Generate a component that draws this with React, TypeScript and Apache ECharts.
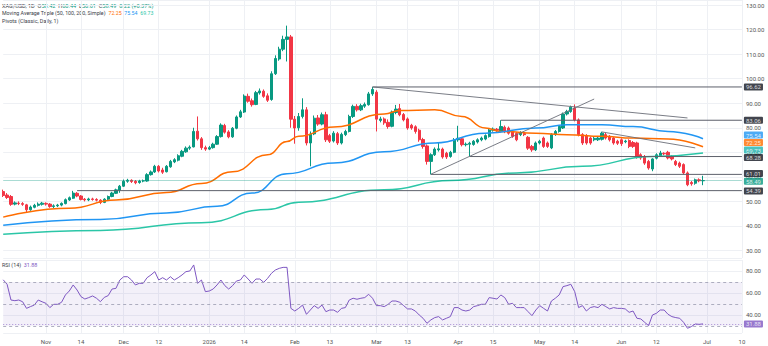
import React, { useEffect, useRef } from 'react';
import * as echarts from 'echarts';

// [open, close, low, high] per daily bar
const candles: number[][] = [
  [54.0, 52.4, 51.8, 54.8], [52.6, 51.6, 51.0, 53.4], [52.0, 48.8, 48.2, 52.6], [48.9, 49.4, 48.4, 50.0], [49.3, 49.1, 48.5, 50.0],
  [49.1, 48.8, 48.2, 49.7], [48.6, 46.6, 45.7, 49.0], [46.6, 47.7, 46.2, 48.3], [47.6, 48.4, 47.2, 49.0], [48.4, 48.9, 47.9, 49.6],
  [48.8, 49.3, 48.3, 49.8], [49.2, 48.9, 48.3, 49.6], [48.9, 47.9, 47.4, 49.3], [47.9, 48.2, 47.3, 48.8], [48.2, 48.5, 47.7, 49.0],
  [48.5, 49.2, 48.0, 49.6], [49.1, 50.7, 48.8, 51.2], [50.6, 51.5, 50.2, 52.0], [51.3, 53.4, 51.0, 54.3], [53.3, 52.2, 51.7, 53.8],
  [52.2, 50.8, 50.4, 52.6], [50.9, 50.6, 50.0, 51.4], [50.6, 51.0, 50.1, 51.5], [51.0, 50.8, 50.3, 51.5], [50.8, 50.5, 50.0, 51.3],
  [50.5, 49.6, 48.9, 50.9], [49.6, 50.9, 49.3, 51.3], [50.9, 52.0, 50.5, 52.4], [52.0, 53.4, 51.7, 53.9], [53.3, 54.7, 53.0, 55.2],
  [54.6, 56.2, 53.5, 56.7], [56.2, 58.2, 55.9, 58.9], [58.2, 58.6, 57.6, 59.2], [58.6, 58.1, 57.5, 59.0], [58.2, 57.6, 57.0, 58.7],
  [57.7, 58.3, 57.2, 58.8], [58.3, 58.4, 57.8, 58.9], [58.3, 60.9, 58.0, 61.5], [60.9, 62.0, 60.5, 62.6], [62.0, 64.3, 61.6, 64.9],
  [64.3, 62.4, 61.8, 64.8], [62.8, 61.9, 61.2, 63.7], [62.1, 64.3, 61.8, 64.8], [64.1, 66.3, 63.7, 66.9], [66.1, 67.0, 65.6, 67.6],
  [66.8, 68.6, 66.3, 69.2], [68.4, 70.4, 68.0, 71.0], [70.2, 71.7, 69.8, 72.4], [71.7, 72.1, 71.0, 72.8], [72.2, 78.5, 72.0, 80.0],
  [78.6, 75.5, 74.8, 84.6], [75.5, 71.9, 71.0, 76.2], [71.9, 71.3, 70.6, 72.7], [71.3, 71.9, 70.9, 72.6], [71.9, 73.3, 71.5, 73.9],
  [73.3, 76.4, 73.0, 77.0], [76.4, 81.1, 76.0, 81.8], [80.9, 78.2, 77.6, 81.6], [78.3, 76.3, 75.7, 79.0], [76.3, 79.8, 75.9, 80.3],
  [79.8, 84.4, 79.4, 85.0], [84.4, 86.5, 84.0, 87.3], [86.4, 92.9, 86.0, 93.6], [92.8, 90.8, 90.2, 93.9], [91.0, 89.4, 88.6, 91.9],
  [89.5, 94.3, 89.2, 95.0], [94.2, 95.0, 93.5, 96.0], [94.9, 92.8, 92.2, 95.6], [93.0, 91.2, 90.5, 94.0], [91.5, 102.0, 91.0, 103.0],
  [102.0, 108.2, 101.5, 109.5], [108.0, 112.0, 107.3, 113.0], [112.0, 116.0, 111.2, 117.5], [116.0, 117.0, 107.0, 121.6], [117.0, 83.5, 80.0, 117.8],
  [83.5, 79.9, 73.5, 84.8], [80.0, 84.6, 78.8, 86.0], [84.6, 87.3, 83.8, 92.0], [87.3, 73.8, 72.8, 88.4], [73.8, 77.4, 64.3, 78.5],
  [77.5, 83.9, 77.0, 85.0], [84.0, 81.5, 80.8, 85.2], [81.5, 85.3, 81.0, 86.2], [85.3, 75.1, 74.2, 86.5], [76.8, 74.5, 73.8, 77.5],
  [74.6, 77.8, 74.0, 78.6], [77.6, 73.8, 73.0, 78.3], [73.8, 77.3, 73.2, 78.0], [77.2, 78.5, 76.6, 79.2], [78.5, 84.6, 78.1, 85.3],
  [84.6, 88.7, 84.0, 89.4], [88.7, 87.3, 86.6, 89.6], [87.3, 89.0, 86.8, 89.8], [88.8, 89.5, 88.1, 90.3], [89.4, 93.8, 89.0, 94.6],
  [93.8, 95.6, 93.0, 96.62], [94.5, 83.5, 78.5, 95.3], [83.0, 83.6, 82.2, 84.5], [83.6, 82.0, 81.2, 84.2], [82.2, 80.5, 79.6, 83.4],
  [80.6, 86.4, 80.2, 87.0], [86.2, 87.6, 85.5, 89.3], [87.8, 85.3, 84.7, 89.7], [85.4, 83.2, 82.6, 86.0], [83.6, 79.9, 79.2, 84.2],
  [81.0, 79.9, 79.2, 81.6], [80.4, 78.5, 77.6, 81.0], [79.0, 75.1, 74.3, 79.6], [75.2, 72.4, 71.5, 75.9], [72.6, 66.3, 65.0, 73.2],
  [66.3, 69.0, 61.0, 69.6], [69.0, 71.3, 68.5, 72.0], [71.0, 71.4, 70.3, 73.8], [71.3, 68.1, 67.4, 71.9], [69.6, 68.1, 67.3, 70.2],
  [68.3, 70.0, 67.8, 70.6], [70.0, 75.1, 69.6, 75.8], [75.1, 75.7, 74.3, 80.8], [75.5, 73.1, 72.4, 76.0], [73.1, 73.3, 72.4, 74.0],
  [73.3, 73.7, 68.3, 74.3], [73.2, 74.5, 72.7, 75.0], [74.2, 75.1, 73.6, 75.7], [75.1, 75.8, 74.5, 76.4], [75.4, 76.8, 74.9, 77.3],
  [76.4, 79.1, 76.0, 79.7], [79.0, 79.5, 78.4, 80.1], [79.4, 79.0, 78.3, 79.9], [78.6, 80.5, 78.1, 83.06], [80.2, 78.5, 77.8, 80.9],
  [79.9, 77.8, 77.2, 80.5], [78.4, 76.5, 75.9, 79.0], [77.7, 75.1, 74.5, 78.2], [77.2, 77.9, 76.6, 78.6], [77.6, 77.2, 76.6, 78.1],
  [76.1, 71.7, 71.0, 76.6], [72.4, 71.0, 70.2, 73.0], [71.0, 73.8, 70.5, 74.4], [73.8, 74.5, 73.2, 75.1], [75.8, 72.4, 71.8, 76.4],
  [73.8, 72.4, 71.8, 74.4], [71.8, 77.2, 71.3, 77.8], [77.2, 78.5, 76.7, 79.1], [78.5, 80.5, 78.0, 81.1], [79.9, 85.6, 79.5, 86.2],
  [85.6, 86.6, 85.0, 87.3], [86.6, 88.4, 86.1, 89.0], [88.0, 83.2, 82.6, 89.5], [83.2, 77.2, 76.5, 83.8], [77.2, 73.8, 73.0, 77.8],
  [76.8, 73.8, 73.1, 77.4], [75.8, 73.8, 73.1, 76.4], [75.1, 75.7, 74.5, 76.3], [75.1, 75.8, 74.6, 76.4], [75.3, 77.8, 74.8, 78.4],
  [77.2, 75.8, 75.2, 77.9], [76.5, 75.1, 74.4, 77.0], [75.8, 73.8, 73.1, 76.3], [74.5, 73.7, 73.0, 75.1], [75.1, 73.5, 72.6, 75.7],
  [74.3, 74.6, 73.7, 75.1], [74.8, 72.4, 71.7, 75.3], [74.0, 72.4, 71.8, 74.6], [73.8, 68.1, 67.4, 74.3], [69.0, 67.7, 67.0, 69.6],
  [68.3, 65.6, 64.9, 68.9], [66.3, 63.6, 62.9, 66.9], [63.2, 67.3, 62.3, 67.6], [67.6, 69.0, 67.1, 69.6], [68.6, 69.7, 68.1, 70.6],
  [69.6, 69.4, 68.8, 70.0], [70.0, 67.7, 67.1, 70.6], [68.3, 67.3, 66.7, 68.9], [66.3, 65.0, 64.4, 66.9], [65.6, 64.3, 63.6, 66.2],
  [65.0, 61.6, 61.0, 65.5], [61.6, 56.8, 56.2, 62.2], [57.7, 57.2, 56.4, 58.3], [57.4, 58.8, 56.8, 59.3], [58.8, 58.4, 57.8, 59.4],
  [58.42, 58.49, 56.61, 60.44],
];

const rsi: number[] = [
  72.0, 67.9, 53.6, 53.0, 53.6, 52.0, 46.0, 47.6, 49.0, 53.6,
  52.0, 50.6, 46.7, 49.7, 49.7, 51.5, 58.2, 61.8, 67.3, 62.7,
  56.7, 54.5, 55.8, 57.3, 55.2, 52.1, 56.0, 57.6, 63.6, 64.2,
  71.8, 74.8, 74.8, 71.8, 67.3, 68.8, 68.8, 73.9, 76.4, 79.4,
  71.8, 73.9, 71.8, 74.8, 71.8, 73.9, 76.4, 79.4, 80.0, 85.5,
  68.8, 71.8, 61.2, 61.8, 63.6, 67.3, 71.8, 66.7, 63.6, 66.7,
  70.9, 71.8, 76.4, 72.7, 68.8, 72.7, 72.7, 69.7, 73.3, 77.9,
  80.9, 82.4, 83.3, 83.3, 46.0, 43.6, 46.0, 49.0, 40.6, 44.5,
  48.5, 46.0, 49.0, 43.0, 44.5, 44.5, 42.4, 46.0, 46.7, 53.6,
  55.2, 54.3, 55.2, 55.8, 58.8, 55.2, 48.5, 48.5, 47.6, 49.7,
  52.7, 52.7, 51.5, 48.5, 45.5, 45.5, 43.6, 40.0, 37.0, 32.4,
  35.5, 37.6, 38.5, 35.5, 37.0, 38.5, 46.7, 46.7, 44.5, 43.6,
  44.5, 47.6, 48.5, 49.7, 49.7, 55.8, 55.2, 54.5, 58.2, 55.8,
  49.7, 50.6, 46.7, 46.7, 46.7, 43.0, 39.4, 44.5, 48.5, 46.0,
  43.6, 52.7, 55.2, 58.2, 65.8, 66.7, 67.9, 61.2, 46.7, 48.5,
  43.6, 46.7, 47.6, 46.7, 49.7, 47.6, 45.5, 46.7, 46.0, 46.0,
  45.5, 42.4, 43.6, 37.0, 36.4, 33.3, 30.3, 40.0, 41.5, 44.5,
  44.5, 40.6, 38.5, 37.6, 37.0, 33.3, 27.9, 29.4, 31.8, 31.5,
  31.88,
];

// moving averages read at sample bars: [bar index, value]
const ma50: number[][] = [[0, 43.6], [17, 47.2], [29, 50.6], [42, 53.6], [51, 57.3], [59, 62.1], [68, 69.0], [73, 74.4], [76, 76.5], [85, 80.3], [98, 85.6], [102, 87.0], [111, 87.3], [118, 84.6], [124, 79.9], [128, 78.5], [137, 77.8], [145, 77.2], [154, 76.5], [162, 75.8], [171, 75.4], [180, 72.25]];
const ma100: number[][] = [[0, 40.3], [25, 42.6], [42, 45.3], [55, 48.0], [64, 53.4], [73, 61.3], [85, 65.6], [98, 70.2], [111, 73.8], [124, 77.8], [137, 79.9], [145, 81.2], [154, 81.2], [162, 80.5], [171, 78.5], [180, 75.54]];
const ma200: number[][] = [[0, 36.6], [25, 38.2], [51, 41.3], [68, 46.7], [76, 49.7], [98, 54.7], [115, 58.5], [132, 61.6], [149, 64.3], [167, 68.3], [180, 69.73]];

// horizontal pivot levels: [value, starting bar]
const pivots: number[][] = [[96.62, 95], [83.06, 128], [68.28, 120], [61.01, 110], [54.39, 19]];
// drawn trend lines: [[bar, price], [bar, price]]
const trendLines: number[][][] = [
  [[95, 96.62], [176, 84.0]],
  [[110, 61.1], [152, 91.7]],
  [[154, 78.3], [178, 71.8]],
];

const xTicks: [number, string][] = [
  [11, 'Nov'], [20, '14'], [31, 'Dec'], [40, '12'], [53, '2026'], [62, '14'], [75, 'Feb'], [84, '13'], [96, 'Mar'],
  [104, '13'], [117, 'Apr'], [126, '15'], [138, 'May'], [147, '14'], [159, 'Jun'], [168, '12'], [181, 'Jul'], [190, '10'],
];

// right-axis tags: [value, background, vertical shift]
const priceTags: [number, string, number][] = [
  [96.62, '#131722', 0], [83.06, '#131722', 0], [75.54, '#2196F3', -3.7], [72.25, '#FF6D00', -4.2],
  [69.73, '#1FB3B0', -2.9], [68.28, '#131722', 1], [61.01, '#131722', -0.9], [58.49, '#089981', 0.6], [54.39, '#131722', 0.3],
];

const LAST_PRICE = 58.49;
const LAST_RSI = 31.88;
const N = 191;
const FONT = 'Roboto';

const UP = '#089981';
const DOWN = '#F23645';
const C50 = '#FF6D00';
const C100 = '#2196F3';
const C200 = '#2BC6A7';
const RSI_C = '#7E57C2';

function buildOption() {
  const cats = Array.from({ length: N }, (_, i) => String(i));
  const tickMap = new Map<number, string>(xTicks);
  const isTick = (i: number) => tickMap.has(i);
  const gridLine = { show: true, interval: (i: number) => isTick(i), lineStyle: { color: '#eef0f4', width: 1 } };
  const tagLabel = (text: string, bg: string, dy: number) => ({
    show: true, position: 'right', distance: 2, offset: [0, dy], formatter: text,
    color: '#fff', backgroundColor: bg, padding: [0, 2, 0, 2], lineHeight: 7, fontSize: 6, fontFamily: FONT, borderRadius: 1,
  });

  const series: any[] = [
    {
      type: 'candlestick', xAxisIndex: 0, yAxisIndex: 0, data: candles, barWidth: 2.8, z: 2,
      itemStyle: { color: UP, color0: DOWN, borderColor: UP, borderColor0: DOWN, borderWidth: 1 },
      markLine: {
        silent: true, symbol: ['none', 'none'], label: { show: false },
        data: [{ yAxis: LAST_PRICE, lineStyle: { color: UP, opacity: 0.35, width: 1, type: 'solid' } }],
      },
    },
  ];
  [[ma50, C50], [ma100, C100], [ma200, C200]].forEach(([d, c]: any) => {
    series.push({
      type: 'line', xAxisIndex: 0, yAxisIndex: 0, data: d, showSymbol: false, smooth: 0.5, smoothMonotone: 'x',
      lineStyle: { color: c, width: 1.5 }, z: 4, silent: true,
    });
  });
  pivots.forEach(([v, from]) => {
    series.push({
      type: 'line', xAxisIndex: 0, yAxisIndex: 0, data: [[from, v], [N - 1, v]], showSymbol: false,
      lineStyle: { color: '#5d606b', width: 1 }, z: 5, silent: true,
    });
  });
  trendLines.forEach((seg) => {
    series.push({
      type: 'line', xAxisIndex: 0, yAxisIndex: 0, data: seg, showSymbol: false,
      lineStyle: { color: '#6b6e78', width: 0.9 }, z: 5, silent: true,
    });
  });
  series.push({
    type: 'scatter', xAxisIndex: 0, yAxisIndex: 0, symbolSize: 0, silent: true, clip: false, z: 10,
    data: priceTags.map(([v, bg, dy]) => ({ value: [N - 1, v], label: tagLabel(v.toFixed(2), bg, dy) })),
  });
  // RSI
  series.push({
    type: 'line', xAxisIndex: 1, yAxisIndex: 1, data: rsi, showSymbol: false,
    lineStyle: { color: RSI_C, width: 1 }, z: 4, silent: true,
    markArea: { silent: true, itemStyle: { color: 'rgba(126,87,194,0.09)' }, data: [[{ yAxis: 30 }, { yAxis: 70 }]] },
    markLine: {
      silent: true, symbol: ['none', 'none'], label: { show: false },
      data: [
        { yAxis: 70, lineStyle: { color: '#9a9cb0', width: 0.8, type: [3, 3] } },
        { yAxis: 50, lineStyle: { color: '#9a9cb0', width: 0.8, type: [3, 3] } },
        { yAxis: 30, lineStyle: { color: '#9a9cb0', width: 0.8, type: [3, 3] } },
        { yAxis: LAST_RSI, lineStyle: { color: RSI_C, width: 0.8, type: [1, 2], opacity: 0.8 } },
      ],
    },
  });
  series.push({
    type: 'scatter', xAxisIndex: 1, yAxisIndex: 1, symbolSize: 0, silent: true, clip: false, z: 10,
    data: [{ value: [N - 1, LAST_RSI], label: tagLabel(LAST_RSI.toFixed(2), RSI_C, 0) }],
  });

  const left = 3.2;
  const right = 26.1;
  const axisLabelBase = { fontSize: 6, color: '#555', fontFamily: FONT };
  const tok = (c: string) => ({ fontSize: 6, fontFamily: FONT, fill: c, color: c });
  const leg = (top: number, text: string, sx: number) => ({
    type: 'text', left: 2, top, scaleX: sx,
    style: {
      text, fontSize: 6, fontFamily: FONT, fill: '#3a3d48',
      rich: { n: tok('#3a3d48'), g: tok(UP), o: tok(C50), b: tok(C100), t: tok(C200), p: tok(RSI_C) },
    },
  });

  return {
    animation: false,
    backgroundColor: '#ffffff',
    textStyle: { fontFamily: FONT },
    grid: [
      { left, right, top: 0, height: 258 },
      { left, right, top: 260, height: 73 },
    ],
    xAxis: [
      {
        type: 'category', gridIndex: 0, data: cats, boundaryGap: false,
        axisLine: { show: false }, axisTick: { show: false }, axisLabel: { show: false }, splitLine: gridLine,
      },
      {
        type: 'category', gridIndex: 1, data: cats, boundaryGap: false,
        axisLine: { show: false }, axisTick: { show: false },
        axisLabel: { ...axisLabelBase, show: true, margin: 5, interval: (i: number) => isTick(i), formatter: (_v: string, i: number) => tickMap.get(i) ?? '' },
        splitLine: gridLine,
      },
    ],
    yAxis: [
      {
        type: 'value', gridIndex: 0, position: 'right', min: 26.95, max: 132.04, splitNumber: 10,
        axisLine: { show: false }, axisTick: { show: false },
        axisLabel: {
          ...axisLabelBase, margin: 4, showMinLabel: false, showMaxLabel: false,
          formatter: (v: number) => (Math.abs(v / 10 - Math.round(v / 10)) < 1e-6 ? v.toFixed(2) : ''),
        },
        splitLine: { lineStyle: { color: '#eef0f4', width: 1 } },
      },
      {
        type: 'value', gridIndex: 1, position: 'right', min: 23.6, max: 90, splitNumber: 3,
        axisLine: { show: false }, axisTick: { show: false },
        axisLabel: {
          ...axisLabelBase, margin: 4, showMinLabel: false, showMaxLabel: false,
          formatter: (v: number) => (Math.abs(v / 20 - Math.round(v / 20)) < 1e-6 && v >= 40 ? v.toFixed(2) : ''),
        },
        splitLine: { lineStyle: { color: '#eef0f4', width: 1 } },
      },
    ],
    graphic: [
      leg(2.5, '{n|XAG/USD, 1D}  {n|O}{g|58.42}  {n|H}{g|60.44}  {n|L}{g|56.61}  {n|C}{g|58.49}  {g|0.22 (+0.37%)}', 0.93),
      leg(10, '{n|Moving Average Triple (50, 100, 200, Simple)}  {o|72.25}  {b|75.54}  {t|69.73}', 0.88),
      leg(17.5, '{n|Pivots (Classic, Daily, 1)}', 0.9),
      leg(262, '{n|RSI (14)}  {p|31.88}', 0.9),
    ],
    series,
  };
}

export default function App() {
  const ref = useRef<HTMLDivElement>(null);
  useEffect(() => {
    if (!ref.current) return;
    const chart = echarts.init(ref.current, null, { renderer: 'svg' });
    chart.setOption(buildOption() as any);
    return () => chart.dispose();
  }, []);
  return (
    <div
      ref={ref}
      style={{ position: 'fixed', left: 0, top: 0, width: 768, height: 346, background: '#fff' }}
    />
  );
}
